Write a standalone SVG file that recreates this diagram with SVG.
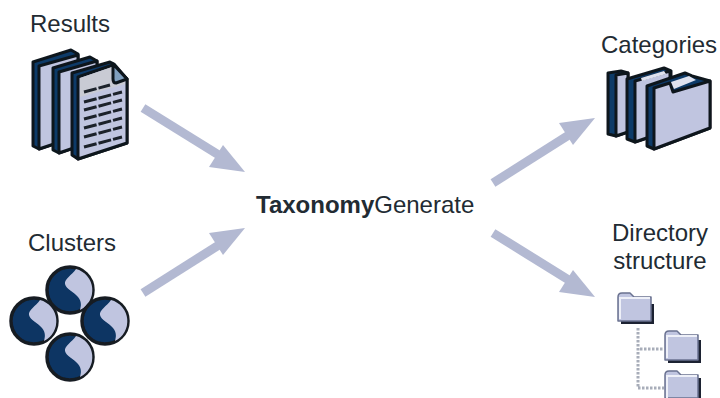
<svg xmlns="http://www.w3.org/2000/svg" width="720" height="398" viewBox="0 0 720 398">
<style>
text{font-family:"Liberation Sans",Arial,sans-serif;font-size:24px;fill:#222b33}
.o{stroke:#10161e;stroke-width:3;stroke-linejoin:round}
.p{fill:#c0c5e0}.s{fill:#0d3a68}
.a{stroke:#b3b9d2;stroke-width:9;fill:none}.h{fill:#b3b9d2}
.c{fill:#0b3563;stroke:#171c24;stroke-width:3.5}
.w{fill:#c0c5e0}
.f{fill:#c0c5e0;stroke:#6a7290;stroke-width:1.5;stroke-linejoin:round}
.i{fill:none;stroke:#eef0f8;stroke-width:2}
.fb{fill:#1b2230}.d{stroke:#a8adb9;stroke-width:3;stroke-dasharray:2.5 1.5;fill:none}
</style>
<defs>
<filter id="b" x="-5%" y="-5%" width="110%" height="110%"><feGaussianBlur stdDeviation="0.6"/></filter>
<g id="swirl"><circle class="c" r="23"/><path class="w" d="M6-21C2-15-6-11-5-6C-4-1 4 2 8 7C12 12 11 16 10 20A22 22 0 0 0 6-21Z"/></g>
</defs>
<g id="connectors">
<path class="a" d="M143 108L222 157"/><path class="h" d="M245 172L209 167L223 145Z"/>
<path class="a" d="M143 293L222 243"/><path class="h" d="M245 228L223 255L209 233Z"/>
<path class="a" d="M493 183L572 133"/><path class="h" d="M595 118L573 145L559 123Z"/>
<path class="a" d="M493 233L572 282"/><path class="h" d="M595 297L559 292L573 270Z"/>
</g>
<g id="results">
<text x="30" y="32">Results</text>
<g filter="url(#b)">
<path class="o s" d="M33 62L71 50L78 54L78 136L39 149L33 146Z"/><path class="o p" d="M39 66L78 55L78 136L39 149Z"/>
<path class="o s" d="M53 68L90 57L97 61L97 140L59 153L53 150Z"/><path class="o p" d="M59 72L97 61L97 140L59 153Z"/>
<path class="o s" d="M72 73L110 62L114 64L127 79L127 143L78 159L72 155Z"/><path class="o p" d="M78 77L113 65L127 79L127 143L78 159Z"/>
<path d="M80 78L112 67L113 82L125 81L125 84L80 97Z" fill="#c9cbd4"/>
<path class="o" fill="#7f9fbe" d="M113 64L127 79L116 83Q113 83 113 79Z"/>
<g stroke="#1a2029" stroke-width="3" stroke-dasharray="13 2"><path d="M84 92L110 85"/><path d="M84 102L122 92"/><path d="M84 110L122 100"/><path d="M84 119L122 109"/><path d="M84 128L122 118"/><path d="M84 137L122 127"/><path d="M84 147L122 137"/></g>
</g>
</g>
<g id="clusters">
<text x="28" y="251">Clusters</text>
<g filter="url(#b)"><use href="#swirl" x="70" y="290"/><use href="#swirl" x="34" y="321"/><use href="#swirl" x="105" y="321"/><use href="#swirl" x="70" y="357"/></g>
</g>
<g id="taxonomy">
<text x="256" y="213"><tspan font-weight="bold">Taxonomy</tspan>Generate</text>
</g>
<g id="categories">
<text x="601" y="53">Categories</text>
<g filter="url(#b)">
<path class="o s" d="M608 73L621 71L628 73L628 132L616 136L608 134Z"/><path class="o p" d="M616 75L628 73L628 132L616 136Z"/>
<path class="o s" d="M627 79L664 68L671 71L671 130L635 142L627 139Z"/><path class="o p" d="M635 81L670 71L670 130L635 142Z"/>
<path fill="#dfe2ef" d="M641 78L664 71L666 74L642 81Z"/>
<path class="o s" d="M647 86L685 73L692 76L710 81L710 128L654 149L647 146Z"/>
<path class="o p" d="M654 88L670 83L673 92L710 81L710 128L654 149Z"/>
<path fill="#dfe2ef" d="M671 82L689 76L696 80L674 89Z"/>
</g>
</g>
<g id="directory">
<text x="660" y="241" text-anchor="middle">Directory</text>
<text x="660" y="269" text-anchor="middle">structure</text>
<g filter="url(#b)">
<path class="d" d="M638 328V388H664M640 349H664"/>
<path class="fb" d="M621 304H654V324H621Z"/><path class="f" d="M618 297Q618 293 622 293H630L634 297H651V321H618Z"/><path class="i" d="M620 319V298H650"/>
<path class="fb" d="M668 340H701V363H668Z"/><path class="f" d="M665 335Q665 331 669 331H677L681 335H698V360H665Z"/><path class="i" d="M667 358V336H697"/>
<path class="fb" d="M668 378H701V398H668Z"/><path class="f" d="M665 375Q665 371 669 371H677L681 375H698V398H665Z"/><path class="i" d="M667 398V376H697"/>
</g>
</g>
</svg>
